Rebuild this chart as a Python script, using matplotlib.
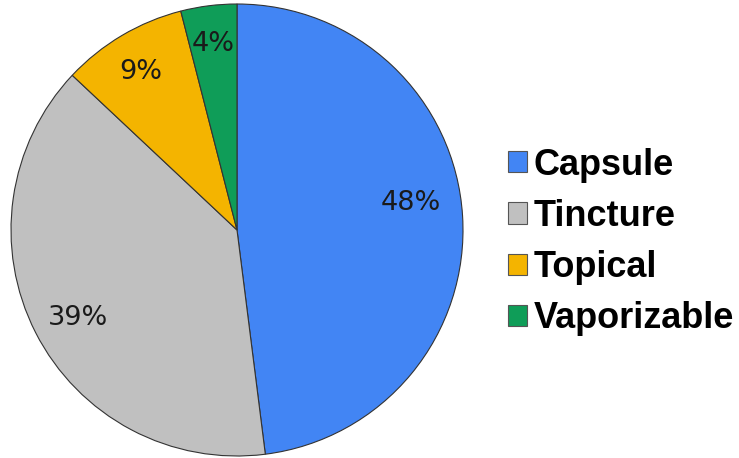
import matplotlib.pyplot as plt
from matplotlib.patches import Patch

# Data
labels = ['Capsule', 'Tincture', 'Topical', 'Vaporizable']
shares = [48, 39, 9, 4]
colors = ['#4285F4', '#C0C0C0', '#F4B400', '#0F9D58']

# where each percent label sits, in pie radius units
label_pos = [(0.770, 0.119), (-0.704, -0.389), (-0.425, 0.700), (-0.106, 0.822)]

W, H = 739, 458
fig = plt.figure(figsize=(W / 100, H / 100), dpi=100)

# pie area in pixels: center (237, 230), radius 226
cx, cy, r = 237, 230, 226
ax = fig.add_axes([(cx - r) / W, 1 - (cy + r) / H, 2 * r / W, 2 * r / H])

wedges, texts, autotexts = ax.pie(
    shares, colors=colors, startangle=90, counterclock=False,
    autopct='%d%%', pctdistance=0.8,
    wedgeprops=dict(edgecolor='#333333', linewidth=0.8),
    textprops=dict(fontsize=19.5, color='#1a1a1a', family='DejaVu Sans'))
for t, p in zip(autotexts, label_pos):
    t.set_position(p)
ax.set_xlim(-1, 1)
ax.set_ylim(-1, 1)
ax.set_aspect('equal')

handles = [Patch(facecolor=c, edgecolor='#555555', linewidth=0.8) for c in colors]
fig.legend(handles, labels, loc='center left', bbox_to_anchor=(508 / W, 1 - 242 / H),
           frameon=False, borderpad=0, borderaxespad=0,
           handlelength=0.53, handleheight=0.53,
           handletextpad=0.17, labelspacing=0.45,
           prop=dict(family='Liberation Sans', weight='bold', size=26))

fig.savefig('out.png', dpi=100, facecolor='white')
